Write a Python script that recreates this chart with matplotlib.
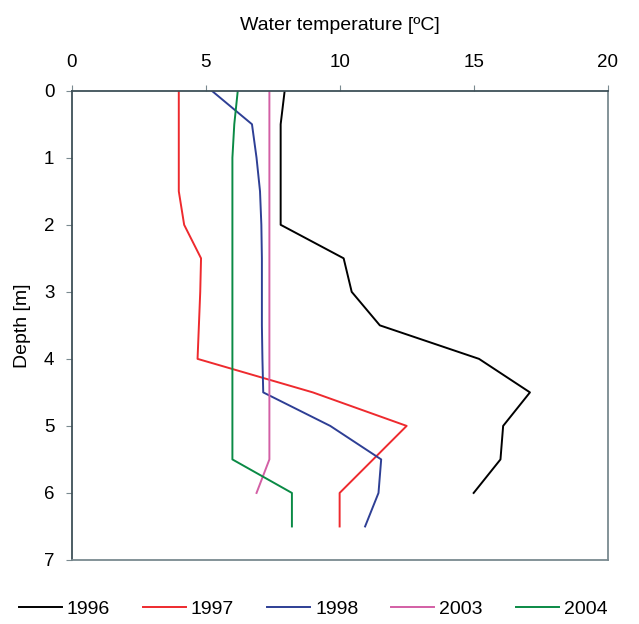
import matplotlib
matplotlib.use("Agg")
import matplotlib.pyplot as plt

plt.rcParams['font.family'] = ['Liberation Sans', 'DejaVu Sans']

years = ["1996", "1997", "1998", "2003", "2004"]
colors = ["#000000", "#ee2a2e", "#2e3f95", "#d35fa5", "#0a8a45"]

depth_1996 = [0, 0.5, 1, 1.5, 2, 2.5, 3, 3.5, 4, 4.5, 5, 5.5, 6]
temp_1996 = [7.95, 7.8, 7.8, 7.8, 7.8, 10.15, 10.45, 11.5, 15.2, 17.1, 16.1, 16.0, 15.0]

depth_1997 = [0, 0.5, 1, 1.5, 2, 2.5, 3, 3.5, 4, 4.5, 5, 5.5, 6, 6.5]
temp_1997 = [4.0, 4.0, 4.0, 4.0, 4.2, 4.83, 4.8, 4.75, 4.7, 9.0, 12.5, 11.25, 10.0, 10.0]

depth_1998 = [0, 0.5, 1, 1.5, 2, 2.5, 3, 3.5, 4, 4.5, 5, 5.5, 6, 6.5]
temp_1998 = [5.23, 6.73, 6.9, 7.03, 7.08, 7.1, 7.1, 7.1, 7.12, 7.15, 9.65, 11.55, 11.45, 10.95]

depth_2003 = [0, 0.5, 1, 1.5, 2, 2.5, 3, 3.5, 4, 4.5, 5, 5.5, 6]
temp_2003 = [7.38, 7.38, 7.38, 7.38, 7.38, 7.38, 7.38, 7.38, 7.38, 7.38, 7.38, 7.38, 6.9]

depth_2004 = [0, 0.5, 1, 1.5, 2, 2.5, 3, 3.5, 4, 4.5, 5, 5.5, 6, 6.5]
temp_2004 = [6.2, 6.07, 6.0, 6.0, 6.0, 6.0, 6.0, 6.0, 6.0, 6.0, 6.0, 6.0, 8.22, 8.22]

series = [(temp_1996, depth_1996), (temp_1997, depth_1997), (temp_1998, depth_1998),
          (temp_2003, depth_2003), (temp_2004, depth_2004)]

fig = plt.figure(figsize=(6.39, 6.24), dpi=100)
ax = fig.add_axes([0.112, 0.1026, 0.839, 0.752])

for (t, d), yr, c in zip(series, years, colors):
    ax.plot(t, d, color=c, lw=1.4, label=yr)

ax.set_xlim(0, 20)
ax.set_ylim(7, 0)
ax.set_xticks([0, 5, 10, 15, 20])
ax.set_yticks(range(8))
ax.xaxis.tick_top()
ax.xaxis.set_label_position('top')
ax.tick_params(axis='x', direction='out', length=4.3, width=0.8, color='#7a8a90',
               labelsize=13.5, pad=10)
ax.tick_params(axis='y', direction='out', length=4.3, width=0.8, color='#7a8a90',
               labelsize=13.5, pad=8)
ax.set_xlabel("Water temperature [\u00baC]", fontsize=14, labelpad=17)
ax.set_ylabel("Depth [m]", fontsize=14, labelpad=9)

ax.spines['top'].set_color('#3e5058')
ax.spines['left'].set_color('#3e5058')
ax.spines['bottom'].set_color('#7a8a90')
ax.spines['right'].set_color('#7a8a90')
for s in ax.spines.values():
    s.set_linewidth(1.3)

fig.legend(loc='center', bbox_to_anchor=(0.49, 1 - 609 / 624), ncol=5, frameon=False,
           fontsize=14, handlelength=2.2, handletextpad=0.26, columnspacing=1.7,
           borderaxespad=0)

fig.savefig("out.png", dpi=100)
